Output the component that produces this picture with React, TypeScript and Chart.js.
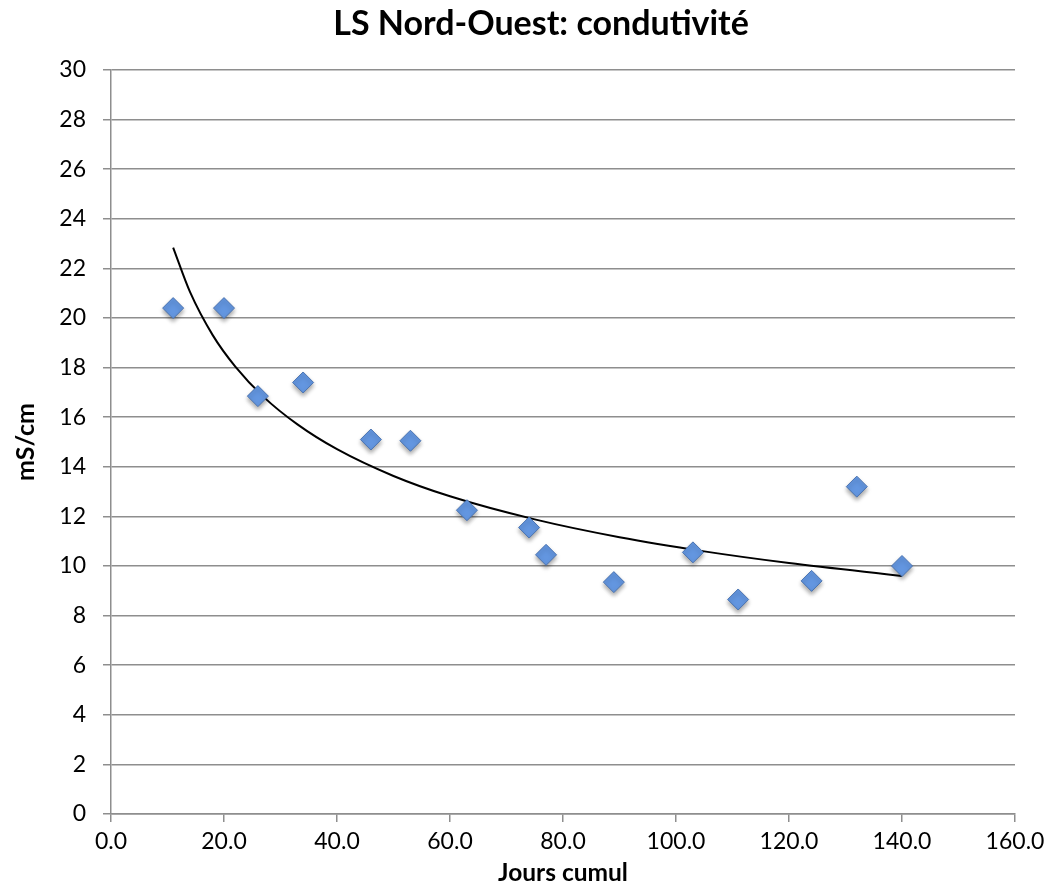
import React, { useEffect, useRef } from "react";
import { Chart, registerables } from "chart.js";

Chart.register(...registerables);

const days = [11, 20, 26, 34, 46, 53, 63, 74, 77, 89, 103, 111, 124, 132, 140];
const conductivity = [20.4, 20.4, 16.85, 17.4, 15.1, 15.05, 12.25, 11.55, 10.45, 9.35, 10.55, 8.65, 9.4, 13.2, 10.0];
// Power trend line (as drawn in the reference)
const trendDays = [11, 14, 18, 22, 27, 33, 40, 50, 60, 75, 90, 105, 120, 140];
const trendValues = [22.84, 21.04, 19.31, 18.04, 16.82, 15.71, 14.71, 13.63, 12.81, 11.88, 11.16, 10.59, 10.12, 9.6];

const titleText = "LS Nord-Ouest: condutivité";
const xTitle = "Jours cumul";
const yTitle = "mS/cm";

const FONT = "Lato, 'Open Sans', sans-serif";

const shadowPlugin = {
  id: "markerShadow",
  beforeDatasetDraw(chart: any, args: any) {
    if (args.index === 0) {
      const ctx = chart.ctx;
      ctx.save();
      ctx.shadowColor = "rgba(0,0,0,0.35)";
      ctx.shadowBlur = 4;
      ctx.shadowOffsetX = 0;
      ctx.shadowOffsetY = 3;
    }
  },
  afterDatasetDraw(chart: any, args: any) {
    if (args.index === 0) chart.ctx.restore();
  },
};

// Chart title centred on the whole figure, as in the reference
const titlePlugin = {
  id: "figureTitle",
  afterDraw(chart: any) {
    const ctx = chart.ctx;
    ctx.save();
    ctx.font = `bold 34px ${FONT}`;
    ctx.fillStyle = "#000";
    ctx.textAlign = "center";
    ctx.textBaseline = "alphabetic";
    ctx.fillText(titleText, chart.width / 2 + 15, 35);
    ctx.restore();
  },
};

export default function App() {
  const ref = useRef<HTMLCanvasElement | null>(null);
  useEffect(() => {
    if (!ref.current) return;
    const gridColor = "#8e8e8e";
    const chart = new Chart(ref.current, {
      type: "scatter",
      data: {
        datasets: [
          {
            label: "conductivité",
            data: days.map((d, i) => ({ x: d, y: conductivity[i] })),
            pointStyle: "rectRot",
            pointRadius: 10.5,
            pointBackgroundColor: "#6396e0",
            pointBorderColor: "#4a73b0",
            pointBorderWidth: 1,
            showLine: false,
            order: 1,
          },
          {
            label: "trend",
            type: "line",
            data: trendDays.map((d, i) => ({ x: d, y: trendValues[i] })),
            borderColor: "#000000",
            borderWidth: 2,
            pointRadius: 0,
            cubicInterpolationMode: "monotone",
            fill: false,
            order: 2,
          } as any,
        ],
      },
      options: {
        animation: false,
        responsive: false,
        layout: { padding: { top: 70, right: 37, left: 0, bottom: 0 } },
        plugins: {
          legend: { display: false },
          tooltip: { enabled: false },
          title: { display: false },
        },
        scales: {
          x: {
            type: "linear",
            min: 0,
            max: 160,
            afterFit: (s: any) => {
              s.height = 72;
            },
            ticks: {
              stepSize: 20,
              color: "#000",
              font: { family: FONT, size: 23 },
              padding: 6,
              maxRotation: 0,
              callback: (v: any) => Number(v).toFixed(1),
            },
            grid: {
              display: true,
              drawOnChartArea: false,
              drawTicks: true,
              tickLength: 8,
              color: gridColor,
              lineWidth: 1.5,
            },
            border: { display: true, color: gridColor, width: 1.5 },
            title: {
              display: true,
              text: xTitle,
              color: "#000",
              font: { family: FONT, size: 24.5, weight: "bold" },
              padding: { top: 0, bottom: -2 },
            },
          },
          y: {
            min: 0,
            max: 30,
            afterFit: (s: any) => {
              s.width = 111;
            },
            ticks: {
              stepSize: 2,
              color: "#000",
              font: { family: FONT, size: 23 },
              padding: 17,
            },
            grid: {
              color: gridColor,
              lineWidth: 1.5,
              tickLength: 8,
            },
            border: { display: true, color: gridColor, width: 1.5 },
            title: {
              display: true,
              text: yTitle,
              color: "#000",
              font: { family: FONT, size: 25, weight: "bold" },
              padding: { top: 11, bottom: 0 },
            },
          },
        },
      },
      plugins: [shadowPlugin, titlePlugin],
    });
    return () => chart.destroy();
  }, []);
  return (
    <div style={{ position: "fixed", left: 0, top: 0, width: 1052, height: 886, background: "#fff" }}>
      <canvas ref={ref} width={1052} height={886} style={{ width: 1052, height: 886 }} />
    </div>
  );
}
